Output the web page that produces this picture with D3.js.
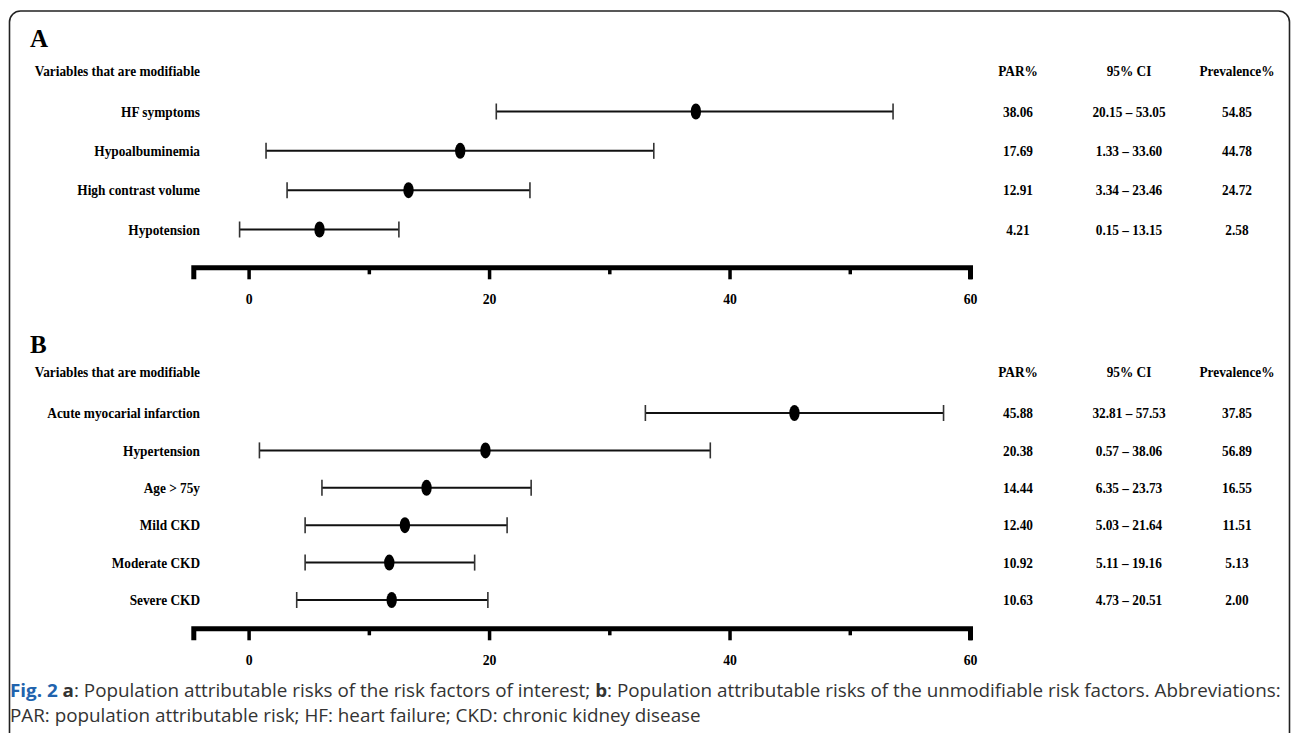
<!DOCTYPE html>
<html>
<head>
<meta charset="utf-8">
<script src="https://cdnjs.cloudflare.com/ajax/libs/d3/7.8.2/d3.min.js"></script>
<style>
  html, body { margin: 0; padding: 0; background: #fff; }
  svg { display: block; }
  .serif { font-family: "Liberation Serif", "Times New Roman", serif; font-weight: bold; fill: #000; }
</style>
</head>
<body>
<svg id="chart" width="1292" height="733"></svg>
<script>
// forest plots of PAR, two panels

// ---- panel A data (positions) ----
const rowsA = ["HF symptoms", "Hypoalbuminemia", "High contrast volume", "Hypotension"];
const pointA = [37.2, 17.6, 13.3, 5.9];
const lowA = [20.6, 1.45, 3.2, -0.75];
const highA = [53.6, 33.7, 23.4, 12.5];
const parTextA = ["38.06", "17.69", "12.91", "4.21"];
const ciTextA = ["20.15 – 53.05", "1.33 – 33.60", "3.34 – 23.46", "0.15 – 13.15"];
const prevTextA = ["54.85", "44.78", "24.72", "2.58"];

// ---- panel B data ----
const rowsB = ["Acute myocarial infarction", "Hypertension", "Age > 75y", "Mild CKD", "Moderate CKD", "Severe CKD"];
const pointB = [45.4, 19.7, 14.8, 13.0, 11.7, 11.9];
const lowB = [33.0, 0.9, 6.1, 4.7, 4.7, 4.0];
const highB = [57.8, 38.4, 23.5, 21.5, 18.8, 19.9];
const parTextB = ["45.88", "20.38", "14.44", "12.40", "10.92", "10.63"];
const ciTextB = ["32.81 – 57.53", "0.57 – 38.06", "6.35 – 23.73", "5.03 – 21.64", "5.11 – 19.16", "4.73 – 20.51"];
const prevTextB = ["37.85", "56.89", "16.55", "11.51", "5.13", "2.00"];

// ---- axis ----
const xTicks = [0, 10, 20, 30, 40, 50, 60];
const xLabels = [0, 20, 40, 60];
const colHeads = ["PAR%", "95% CI", "Prevalence%"];

const FS = 14.8;      // serif label size
const SQ = 0.9;       // the original type is a bit narrow

const svg = d3.select("#chart");

// frame round the figure
svg.append("rect")
  .attr("x", 9.5).attr("y", 11)
  .attr("width", 1280).attr("height", 760)
  .attr("rx", 11)
  .attr("fill", "none").attr("stroke", "#222").attr("stroke-width", 1.6);

const x = d3.scaleLinear().domain([-4.6, 60]).range([193.3, 970]);
const colX = [1018, 1129, 1237];

// narrow serif text placed by transform
const label = (sel, xf, yf, anchor) => sel
  .attr("class", "serif")
  .attr("font-size", FS)
  .attr("text-anchor", anchor)
  .attr("dy", "0.35em")
  .attr("transform", (d, i) => `translate(${xf(d, i)},${yf(d, i)}) scale(${SQ},1)`)
  .text(d => d);

const drawPanel = (cfg) => {
  const g = svg.append("g");
  const y = d3.scalePoint().domain(cfg.rows).range(cfg.rowRange);

  g.append("text").attr("class", "serif")
    .attr("x", 30).attr("y", cfg.letterY)
    .attr("font-size", 25).text(cfg.letter);

  label(g.append("text").datum("Variables that are modifiable"), () => 200, () => cfg.headY, "end");

  label(g.selectAll(".colhead").data(colHeads).join("text"), (d, i) => colX[i], () => cfg.headY, "middle");

  // row labels
  label(g.selectAll(".lab").data(cfg.rows).join("text"), () => 200, d => y(d), "end");

  // table columns
  [cfg.par, cfg.ci, cfg.prev].forEach((col, c) => {
    label(g.selectAll(".col" + c).data(col).join("text"), () => colX[c], (d, i) => y(cfg.rows[i]), "middle");
  });

  // whiskers
  const rows = cfg.rows.map((r, i) => ({ r, p: cfg.point[i], lo: cfg.low[i], hi: cfg.high[i] }));
  const bar = g.selectAll(".bar").data(rows).join("g");
  bar.append("line")
    .attr("x1", d => x(d.lo)).attr("x2", d => x(d.hi))
    .attr("y1", d => y(d.r)).attr("y2", d => y(d.r))
    .attr("stroke", "#111").attr("stroke-width", 2);
  ["lo", "hi"].forEach(k => {
    bar.append("line")
      .attr("x1", d => x(d[k])).attr("x2", d => x(d[k]))
      .attr("y1", d => y(d.r) - 8).attr("y2", d => y(d.r) + 8)
      .attr("stroke", "#333").attr("stroke-width", 1.6);
  });
  bar.append("ellipse")
    .attr("cx", d => x(d.p)).attr("cy", d => y(d.r))
    .attr("rx", 5.2).attr("ry", 8).attr("fill", "#000");

  // x axis
  const ax = g.append("g")
    .attr("transform", `translate(0,${cfg.axisY})`)
    .call(d3.axisBottom(x).tickValues(xTicks).tickSizeOuter(0).tickSize(12)
      .tickFormat(d => xLabels.includes(d) ? d : ""));
  ax.select(".domain").attr("stroke", "#000").attr("stroke-width", 5);
  ax.selectAll(".tick line")
    .attr("stroke", "#000").attr("stroke-width", 3.5)
    .attr("y2", d => xLabels.includes(d) ? 12 : 7);
  ax.selectAll(".tick text")
    .attr("class", "serif")
    .attr("font-size", FS + 0.5).attr("font-family", null)
    .attr("y", null).attr("dy", "0.35em")
    .attr("transform", `translate(0,31) scale(${SQ},1)`);
};

drawPanel({
  letter: "A", letterY: 47, headY: 71,
  rows: rowsA, rowRange: [111.5, 229.5], axisY: 267.3,
  point: pointA, low: lowA, high: highA,
  par: parTextA, ci: ciTextA, prev: prevTextA
});

drawPanel({
  letter: "B", letterY: 353, headY: 372,
  rows: rowsB, rowRange: [413, 600], axisY: 628.3,
  point: pointB, low: lowB, high: highB,
  par: parTextB, ci: ciTextB, prev: prevTextB
});

// caption
const cap = svg.append("g").attr("font-family", "'Open Sans', sans-serif").attr("fill", "#333");
const line1 = cap.append("text").attr("x", 10).attr("y", 697).attr("font-size", 18);
line1.append("tspan").attr("font-weight", "bold").attr("fill", "#2163ad").text("Fig. 2 ");
line1.append("tspan").attr("font-weight", "bold").text("a");
line1.append("tspan").text(": Population attributable risks of the risk factors of interest; ");
line1.append("tspan").attr("font-weight", "bold").text("b");
line1.append("tspan").text(": Population attributable risks of the unmodifiable risk factors. Abbreviations:");
const line2 = cap.append("text").attr("x", 10).attr("y", 722).attr("font-size", 18)
  .text("PAR: population attributable risk; HF: heart failure; CKD: chronic kidney disease");

// squeeze caption so line 1 spans the frame width like the original
const w = line1.node().getComputedTextLength();
const k = 1272 / w;
line1.attr("transform", `translate(10,0) scale(${k},1) translate(-10,0)`);
line2.attr("transform", `translate(10,0) scale(${k},1) translate(-10,0)`);
</script>
</body>
</html>
